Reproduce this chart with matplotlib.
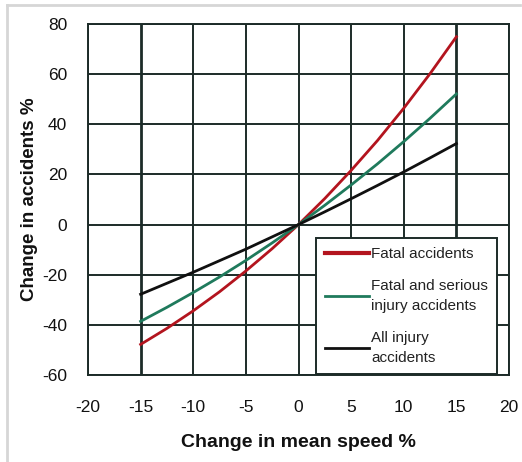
import matplotlib
matplotlib.use("Agg")
import matplotlib.pyplot as plt
from matplotlib.lines import Line2D

speed_change = [-15, -12.5, -10, -7.5, -5, -2.5, 0, 2.5, 5, 7.5, 10, 12.5, 15]
fatal = [-47.8, -41.4, -34.4, -26.8, -18.5, -9.6, 0, 10.4, 21.6, 33.5, 46.4, 60.2, 74.9]
fatal_serious = [-38.6, -33.0, -27.1, -20.9, -14.3, -7.3, 0, 7.7, 15.8, 24.2, 33.1, 42.4, 52.1]
all_injury = [-27.8, -23.4, -19.0, -14.4, -9.8, -4.9, 0, 5.1, 10.3, 15.6, 21.0, 26.6, 32.3]

labels = ["Fatal accidents", "Fatal and serious\ninjury accidents", "All injury\naccidents"]
colors = ["#b3141e", "#1f7a5c", "#101010"]

x_ticks = [-20, -15, -10, -5, 0, 5, 10, 15, 20]
y_ticks = [-60, -40, -20, 0, 20, 40, 60, 80]

W, H = 522, 462
fig = plt.figure(figsize=(W / 100, H / 100), dpi=100)
ax = fig.add_axes([88 / W, 1 - 375 / H, (509 - 88) / W, (375 - 24) / H])

ax.set_xlim(-20, 20)
ax.set_ylim(-60, 80)
ax.set_xticks(x_ticks)
ax.set_yticks(y_ticks)
ax.set_xticklabels([str(v) for v in x_ticks])
ax.set_yticklabels([str(v) for v in y_ticks])

grid_col = "#1c2b28"
for xv in x_ticks:
    lw = 2.0 if xv in (-15, 15) else 1.4
    ax.axvline(xv, color=grid_col, lw=lw, zorder=1)
for yv in y_ticks:
    ax.axhline(yv, color=grid_col, lw=1.4, zorder=1)
for s in ax.spines.values():
    s.set_color(grid_col)
    s.set_linewidth(1.4)

ax.tick_params(axis="x", length=0, pad=18, labelsize=12.5)
ax.tick_params(axis="y", length=0, pad=15, labelsize=12.5)
for t in ax.get_xticklabels() + ax.get_yticklabels():
    t.set_family(["Liberation Sans", "DejaVu Sans"])
    t.set_color("#111111")

ax.plot(speed_change, fatal, color=colors[0], lw=2.0, zorder=3)
ax.plot(speed_change, fatal_serious, color=colors[1], lw=2.0, zorder=3)
ax.plot(speed_change, all_injury, color=colors[2], lw=2.0, zorder=3)

ax.set_xlabel("Change in mean speed %", fontsize=14, fontweight="bold",
              family=["Liberation Sans", "DejaVu Sans"], labelpad=14, color="#111111")
ax.set_ylabel("Change in accidents %", fontsize=13.5, fontweight="bold",
              family=["Liberation Sans", "DejaVu Sans"], labelpad=3, color="#111111")

handles = [Line2D([], [], color=c, lw=w) for c, w in zip(colors, [3.0, 2.0, 2.0])]
leg = ax.legend(handles, labels, loc="lower right", bbox_to_anchor=(497 / W, 1 - 374 / H),
                bbox_transform=fig.transFigure, fancybox=False, framealpha=1,
                edgecolor=grid_col, handlelength=2.9, handletextpad=0.1,
                labelspacing=1.2, borderpad=0.6, borderaxespad=0,
                prop={"family": ["Liberation Sans", "DejaVu Sans"], "size": 11})
for t in leg.get_texts():
    t.set_linespacing(1.5)
    t.set_color("#222222")
leg.get_frame().set_linewidth(1.4)
leg.set_zorder(5)

fig.add_artist(Line2D([7 / W, 7 / W], [0, 1 - 5 / H], transform=fig.transFigure, color="#d6d6d6", lw=2))
fig.add_artist(Line2D([7 / W, 520 / W], [1 - 5 / H, 1 - 5 / H], transform=fig.transFigure, color="#d6d6d6", lw=2))

fig.savefig("out.png", dpi=100)
